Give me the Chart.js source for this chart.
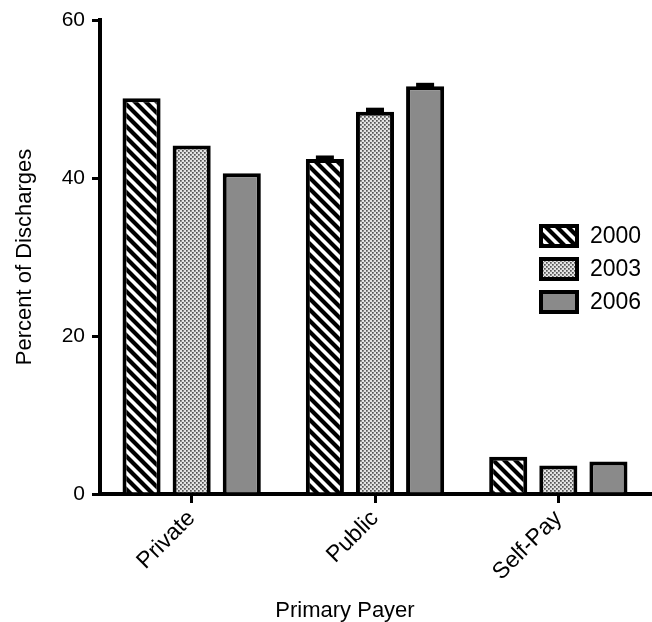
<!DOCTYPE html>
<html>
<head>
<meta charset="utf-8">
<script src="https://cdn.jsdelivr.net/npm/chart.js@4"></script>
<style>
  body { margin: 0; background: #fff; }
  #wrap { width: 652px; height: 622px; }
</style>
</head>
<body>
<div id="wrap"><canvas id="myChart" width="652" height="622"></canvas></div>
<script>
const categories = ['Private', 'Public', 'Self-Pay']
const years = ['2000', '2003', '2006']
const val2000 = [50.1, 42.4, 4.7]
const val2003 = [44.1, 48.4, 3.6]
const val2006 = [40.6, 51.6, 4.1]
const err2000 = [0, 0.45, 0]
const err2003 = [0, 0.5, 0]
const err2006 = [0, 0.45, 0]
const yTicks = [0, 20, 40, 60]

const FONT = "'Liberation Sans', Arial, sans-serif"

// fill patterns
function stripes() {
    var c = document.createElement('canvas')
    c.width = 11; c.height = 11
    var g = c.getContext('2d')
    g.fillStyle = '#fff'
    g.fillRect(0, 0, 11, 11)
    g.strokeStyle = '#000'
    g.lineWidth = 4.2
    g.beginPath()
    g.moveTo(-2, -2); g.lineTo(13, 13)
    g.moveTo(9, -2); g.lineTo(13, 2)
    g.moveTo(-2, 9); g.lineTo(2, 13)
    g.stroke()
    return g.createPattern(c, 'repeat')
}
function dots() {
    var c = document.createElement('canvas')
    c.width = 4; c.height = 4
    var g = c.getContext('2d')
    g.fillStyle = '#e4e4e4'
    g.fillRect(0, 0, 4, 4)
    g.fillStyle = '#555'
    g.fillRect(0, 0, 1.7, 1.7)
    g.fillRect(2, 2, 1.7, 1.7)
    return g.createPattern(c, 'repeat')
}
const fills = [stripes(), dots(), '#8a8a8a']

var extras = {
    id: 'extras',
    afterDatasetsDraw(chart) {
        var ctx = chart.ctx
        var y = chart.scales.y
        ctx.save()
        ctx.fillStyle = '#000'
        chart.data.datasets.forEach(function (ds, i) {
            chart.getDatasetMeta(i).data.forEach(function (bar, j) {
                var e = ds.err[j]
                if (!e) return
                var top = y.getPixelForValue(ds.data[j] + e)
                ctx.fillRect(bar.x - 9, top, 18, bar.y - top + 2)
            })
        })
        ctx.restore()
    },
    afterDraw(chart) {
        var ctx = chart.ctx
        var a = chart.chartArea
        ctx.save()
        // x axis title
        ctx.fillStyle = '#000'
        ctx.font = '22px ' + FONT
        ctx.textAlign = 'center'
        ctx.textBaseline = 'alphabetic'
        ctx.fillText('Primary Payer', a.left + 245, 617)
        // legend
        ctx.font = '23px ' + FONT
        ctx.textAlign = 'left'
        ctx.textBaseline = 'middle'
        chart.data.datasets.forEach(function (ds, i) {
            var bx = 541, by = 226 + i * 33
            ctx.fillStyle = ds.backgroundColor
            ctx.fillRect(bx, by, 36, 20)
            ctx.strokeStyle = '#000'
            ctx.lineWidth = 4
            ctx.strokeRect(bx, by, 36, 20)
            ctx.fillStyle = '#000'
            ctx.fillText(ds.label, 590, by + 11)
        })
        ctx.restore()
    }
}

var ctx = document.getElementById('myChart').getContext('2d')
var vals = [val2000, val2003, val2006]
var errs = [err2000, err2003, err2006]

var myChart = new Chart(ctx, {
    type: 'bar',
    data: {
        labels: categories,
        datasets: years.map(function (yr, i) {
            return {
                label: yr,
                data: vals[i],
                err: errs[i],
                backgroundColor: fills[i],
                borderColor: '#000',
                borderWidth: 4,
                borderSkipped: 'bottom',
                categoryPercentage: 0.82,
                barPercentage: 0.76
            }
        })
    },
    options: {
        responsive: false,
        animation: false,
        layout: { padding: { left: 0, right: 2, top: 20, bottom: 0 } },
        plugins: { legend: { display: false }, tooltip: { enabled: false } },
        scales: {
            x: {
                grid: { drawOnChartArea: false, drawTicks: true, tickLength: 9, lineWidth: 3, color: '#000', offset: false },
                border: { display: true, color: '#000', width: 4 },
                ticks: { color: '#000', font: { family: FONT, size: 23 }, minRotation: 45, maxRotation: 45, padding: 2 },
                afterFit: function (s) { s.height = 128 }
            },
            y: {
                min: 0,
                max: 60,
                afterBuildTicks: function (s) { s.ticks = yTicks.map(function (v) { return { value: v } }) },
                grid: { drawOnChartArea: false, drawTicks: true, tickLength: 8, lineWidth: 3, color: '#000' },
                border: { display: true, color: '#000', width: 4 },
                ticks: { color: '#000', font: { family: FONT, size: 21 }, padding: 7 },
                title: { display: true, text: 'Percent of Discharges', color: '#000', font: { family: FONT, size: 22 }, padding: { top: 12, bottom: 0 } },
                afterFit: function (s) { s.width = 100 }
            }
        }
    },
    plugins: [extras]
})
</script>
</body>
</html>
